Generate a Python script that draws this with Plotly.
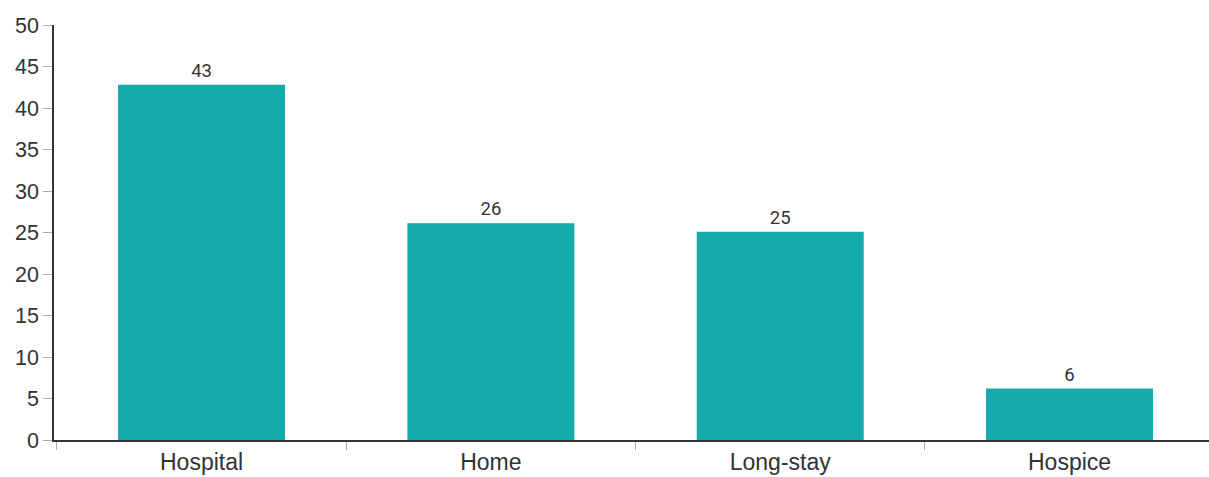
import plotly.graph_objects as go

categories = ["Hospital", "Home", "Long-stay", "Hospice"]
values = [42.8, 26.1, 25.1, 6.2]
labels = [str(round(v)) for v in values]
y_ticks = list(range(0, 51, 5))

fig = go.Figure(go.Bar(
    x=categories, y=values, text=labels, textposition="outside",
    textfont=dict(family="Roboto", size=18.5, color="#333333"),
    marker=dict(color="#14a9ab", line=dict(width=0)),
    cliponaxis=False,
))

fig.update_layout(
    width=1209, height=477,
    margin=dict(l=54, r=0, t=25, b=37),
    paper_bgcolor="white", plot_bgcolor="white",
    bargap=0.423, showlegend=False,
    font=dict(family="Liberation Sans, Arial, sans-serif", color="#333333"),
)
fig.update_xaxes(
    type="category", range=[-0.51, 3.482], showline=True, linecolor="#333333", linewidth=1.5,
    ticks="outside", tickson="boundaries", ticklen=8, tickcolor="#aaaaaa",
    tickfont=dict(size=23, color="#333333"), showgrid=False, ticklabelstandoff=1,
)
fig.update_yaxes(
    range=[0, 50], tickvals=y_ticks, showline=True, linecolor="#333333",
    linewidth=1.5, ticks="outside", ticklen=9, tickcolor="#aaaaaa",
    tickfont=dict(size=21.5, color="#333333"), showgrid=False, zeroline=False,
)

fig.write_html("out.html")
